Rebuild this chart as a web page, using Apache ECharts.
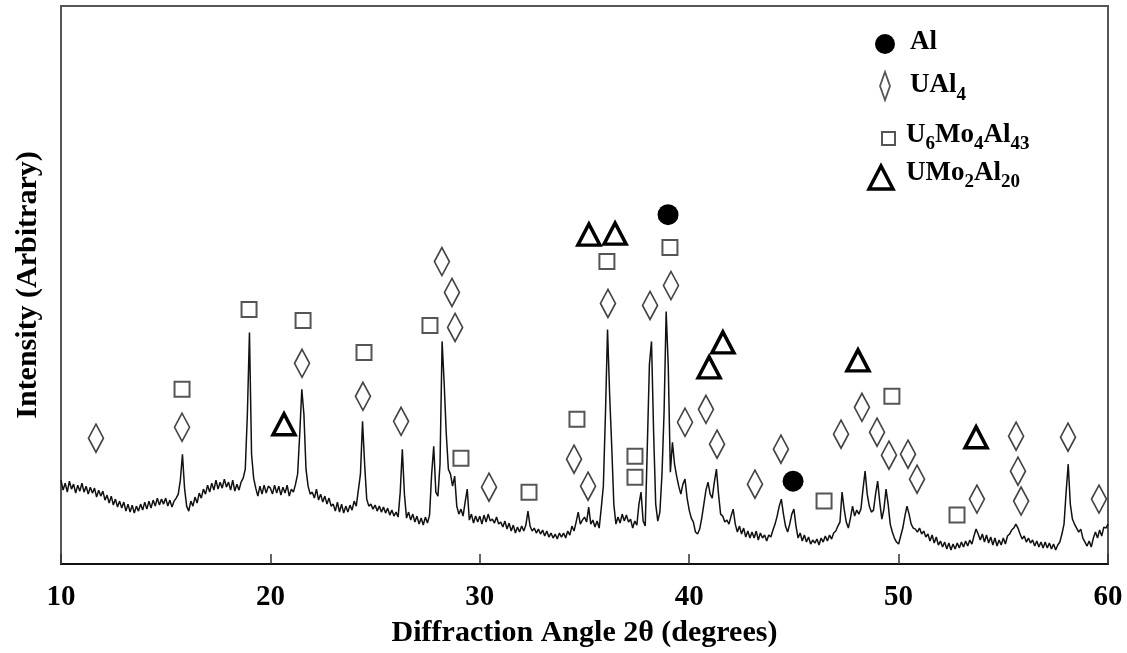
<!DOCTYPE html>
<html>
<head>
<meta charset="utf-8">
<script src="https://cdn.jsdelivr.net/npm/echarts@6/dist/echarts.min.js"></script>
<style>
  html, body { margin: 0; padding: 0; background: #fff; }
  #chart { width: 1127px; height: 653px; }
</style>
</head>
<body>
<div id="chart"></div>
<script>
// scan settings (2θ, degrees)
const scanStart = 10
const scanStep = 0.1
const xTicks = [10, 20, 30, 40, 50, 60]

const intensity = [
  84, 74, 81, 72, 83, 75, 80, 71, 79, 73,
  81, 72, 78, 70, 77, 71, 76, 67, 74, 68,
  73, 64, 69, 61, 68, 59, 65, 57, 63, 56,
  62, 53, 60, 52, 59, 51, 58, 53, 60, 54,
  62, 55, 63, 56, 64, 58, 66, 59, 65, 60,
  66, 58, 64, 57, 63, 66, 70, 84, 110, 76,
  58, 53, 63, 58, 67, 61, 71, 66, 75, 70,
  79, 72, 81, 74, 84, 75, 82, 76, 85, 77,
  82, 74, 84, 73, 80, 74, 82, 86, 95, 150,
  232, 110, 86, 76, 68, 78, 70, 79, 71, 78,
  76, 70, 79, 71, 78, 69, 77, 71, 79, 68,
  75, 72, 80, 90, 130, 175, 150, 95, 78, 70,
  72, 66, 75, 64, 70, 62, 68, 60, 66, 58,
  60, 53, 62, 52, 60, 51, 58, 52, 59, 54,
  63, 58, 74, 90, 143, 100, 65, 58, 60, 55,
  59, 53, 58, 52, 57, 51, 56, 49, 54, 48,
  52, 47, 72, 115, 70, 46, 52, 44, 50, 42,
  48, 40, 46, 39, 47, 41, 49, 90, 118, 72,
  68, 100, 223, 180, 130, 95, 90, 78, 88, 58,
  50, 55, 48, 62, 75, 44, 50, 41, 48, 42,
  48, 40, 49, 42, 50, 43, 45, 41, 47, 40,
  42, 37, 43, 35, 41, 33, 39, 31, 37, 32,
  38, 33, 39, 53, 38, 33, 36, 31, 35, 30,
  34, 28, 33, 27, 31, 26, 30, 25, 31, 27,
  31, 26, 33, 29, 38, 33, 42, 52, 40, 44,
  47, 42, 57, 40, 44, 37, 43, 36, 56, 78,
  150, 235, 170, 118, 60, 40, 47, 41, 50, 43,
  49, 42, 45, 36, 43, 39, 60, 72, 43, 38,
  118, 200, 223, 132, 60, 43, 52, 90, 152, 253,
  198, 92, 122, 100, 88, 78, 70, 80, 85, 66,
  54, 46, 42, 32, 30, 35, 46, 60, 74, 82,
  70, 66, 82, 95, 70, 50, 48, 42, 44, 40,
  48, 55, 40, 32, 38, 30, 36, 27, 33, 26,
  32, 26, 33, 24, 31, 26, 29, 23, 29, 27,
  34, 40, 48, 58, 65, 50, 38, 32, 40, 50,
  55, 38, 26, 31, 23, 29, 22, 27, 20, 24,
  21, 25, 19, 26, 22, 28, 23, 29, 25, 31,
  33, 38, 42, 72, 55, 42, 36, 46, 58, 48,
  54, 50, 55, 75, 93, 70, 58, 52, 54, 70,
  83, 62, 45, 55, 75, 60, 40, 32, 26, 22,
  20, 28, 36, 48, 58, 50, 40, 36, 35, 32,
  36, 30, 33, 27, 30, 23, 29, 21, 27, 19,
  23, 17, 22, 15, 21, 14, 20, 15, 21, 16,
  22, 17, 23, 18, 24, 20, 28, 35, 30, 24,
  30, 22, 29, 21, 27, 19, 26, 18, 24, 19,
  26, 20, 28, 30, 34, 36, 40, 36, 30, 25,
  28, 22, 26, 21, 24, 18, 23, 17, 22, 16,
  22, 16, 21, 15, 20, 14, 19, 22, 30, 40,
  72, 100, 60, 45, 40, 36, 32, 35, 26, 22,
  18, 23, 17, 26, 32, 26, 34, 28, 37, 36,
  40
]

// phase markers [2θ, height]
const alPeaks = [[38.99, 350], [44.96, 83]]
const ual4Peaks = [
  [11.67, 126], [15.78, 137], [21.51, 201], [24.42, 168], [26.24, 143],
  [28.19, 303], [28.67, 272], [28.82, 237], [30.44, 77], [34.5, 105],
  [35.17, 78], [36.12, 261], [38.13, 259], [39.13, 279], [39.8, 142],
  [40.8, 155], [41.33, 120], [43.14, 80], [44.38, 115], [47.25, 130],
  [48.25, 157], [48.97, 132], [49.54, 109], [50.45, 110], [50.88, 85],
  [53.74, 65], [55.61, 128], [55.7, 93], [55.85, 63], [58.09, 127],
  [59.57, 65]
]
const u6mo4al43Peaks = [
  [15.78, 175], [18.98, 255], [21.56, 244], [24.47, 212], [27.62, 239],
  [29.1, 106], [32.35, 72], [34.64, 145], [36.07, 303], [37.41, 108],
  [37.41, 87], [39.08, 317], [46.44, 63], [49.68, 168], [52.79, 49]
]
const umo2al20Peaks = [
  [20.65, 140], [35.21, 330], [36.46, 331], [40.95, 197],
  [41.61, 222], [48.06, 204], [53.7, 127]
]

const serif = 'Liberation Serif, Times New Roman, serif'

const chart = echarts.init(document.getElementById('chart'))

const pattern = intensity.map((v, i) => [+(scanStart + i * scanStep).toFixed(1), v])

// legend text styles (subscripts)
const rich = {
  b: { fontFamily: serif, fontWeight: 'bold', fontSize: 27, lineHeight: 30, verticalAlign: 'top', color: '#000' },
  s: { fontFamily: serif, fontWeight: 'bold', fontSize: 19, lineHeight: 46, verticalAlign: 'middle', color: '#000' }
}
function legendText (x, y, text) {
  return {
    type: 'text',
    z: 10,
    style: { x: x, y: y, text: text, rich: rich, verticalAlign: 'top', fill: '#000' }
  }
}

const option = {
  animation: false,
  backgroundColor: '#fff',
  grid: {
    left: 61,
    right: 19,
    top: 6,
    bottom: 88,
    show: true,
    borderColor: '#555',
    borderWidth: 2
  },
  xAxis: {
    type: 'value',
    min: xTicks[0],
    max: xTicks[xTicks.length - 1],
    interval: xTicks[1] - xTicks[0],
    name: 'Diffraction Angle 2θ (degrees)',
    nameLocation: 'middle',
    nameGap: 54,
    nameTextStyle: { fontFamily: serif, fontWeight: 'bold', fontSize: 30, color: '#000' },
    axisLine: { lineStyle: { color: '#111', width: 2 } },
    axisTick: { inside: true, length: 10, lineStyle: { color: '#333', width: 1.5 } },
    axisLabel: { margin: 19, fontFamily: serif, fontWeight: 'bold', fontSize: 29, color: '#000' },
    splitLine: { show: false }
  },
  yAxis: {
    type: 'value',
    min: 0,
    max: 559,
    name: 'Intensity (Arbitrary)',
    nameLocation: 'middle',
    nameGap: 18,
    nameTextStyle: { fontFamily: serif, fontWeight: 'bold', fontSize: 30, color: '#000' },
    axisLine: { show: false },
    axisTick: { show: false },
    axisLabel: { show: false },
    splitLine: { show: false }
  },
  series: [
    {
      name: 'pattern',
      type: 'line',
      data: pattern,
      symbol: 'none',
      lineStyle: { color: '#111', width: 1.5 },
      z: 2
    },
    {
      name: 'Al',
      type: 'scatter',
      data: alPeaks,
      symbol: 'circle',
      symbolSize: 21,
      itemStyle: { color: '#000', opacity: 1 },
      z: 3
    },
    {
      name: 'UAl4',
      type: 'scatter',
      data: ual4Peaks,
      symbol: 'diamond',
      symbolSize: [15, 28],
      itemStyle: { color: '#fff', borderColor: '#444', borderWidth: 1.8, opacity: 1 },
      z: 3
    },
    {
      name: 'U6Mo4Al43',
      type: 'scatter',
      data: u6mo4al43Peaks,
      symbol: 'rect',
      symbolSize: 15,
      itemStyle: { color: '#fff', borderColor: '#555', borderWidth: 2, opacity: 1 },
      z: 3
    },
    {
      name: 'UMo2Al20',
      type: 'scatter',
      data: umo2al20Peaks,
      symbol: 'triangle',
      symbolSize: [22, 21],
      itemStyle: { color: '#fff', borderColor: '#000', borderWidth: 3.5, opacity: 1 },
      z: 3
    }
  ],
  graphic: [
    { type: 'circle', z: 10, shape: { cx: 885, cy: 44, r: 10 }, style: { fill: '#000' } },
    { type: 'polygon', z: 10, shape: { points: [[880, 86], [885, 72], [890, 86], [885, 100]] }, style: { fill: '#fff', stroke: '#555', lineWidth: 1.8 } },
    { type: 'rect', z: 10, shape: { x: 882, y: 132, width: 13, height: 13 }, style: { fill: '#fff', stroke: '#555', lineWidth: 2 } },
    { type: 'polygon', z: 10, shape: { points: [[869, 189], [881, 166], [893, 189]] }, style: { fill: '#fff', stroke: '#000', lineWidth: 3.5 } },
    legendText(910, 28.5, '{b|Al}'),
    legendText(910, 72, '{b|UAl}{s|4}'),
    legendText(906, 121.5, '{b|U}{s|6}{b|Mo}{s|4}{b|Al}{s|43}'),
    legendText(906, 159.5, '{b|UMo}{s|2}{b|Al}{s|20}')
  ]
}

chart.setOption(option)
</script>
</body>
</html>
